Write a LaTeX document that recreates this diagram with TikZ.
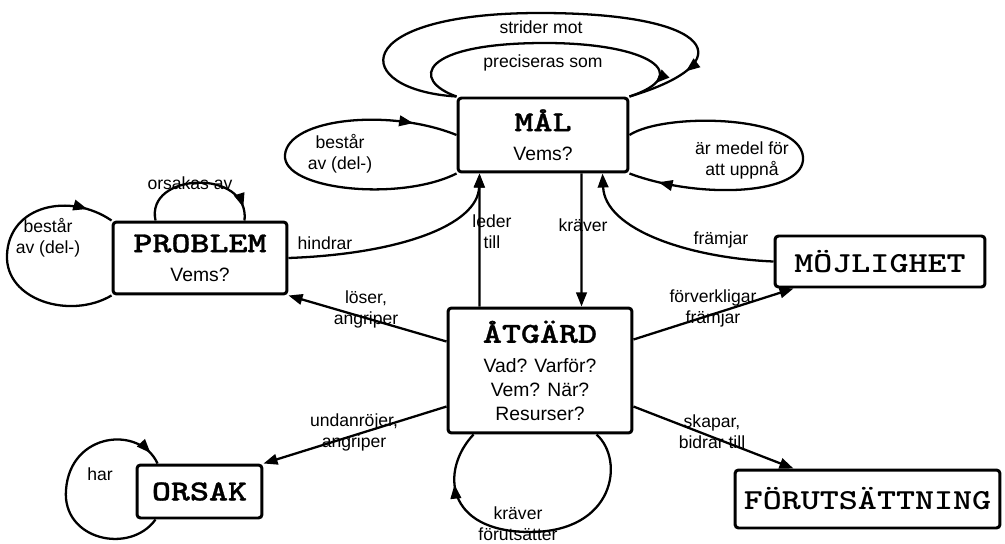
\documentclass[tikz,border=0pt]{standalone}
\usepackage{fontspec}
\setmainfont{Liberation Sans}
\newfontfamily\boxfont{lmmonolt10-bold.otf}[FakeStretch=1.25,FakeBold=1]
\newfontfamily\lightboxfont{lmmonolt10-bold.otf}[FakeStretch=1.25]
\usetikzlibrary{arrows.meta,calc,decorations.markings}
\newcommand{\subfont}{\rmfamily\mdseries\fontsize{11}{13.6}\selectfont}

\begin{document}
\begin{tikzpicture}[x=0.02cm,y=-0.02cm,
  term/.style={draw,line width=1.7pt,rounded corners=2pt,inner sep=0pt,align=center,
    font=\boxfont\fontsize{16.5}{13.7}\selectfont},
  lightterm/.style={term,font=\lightboxfont\fontsize{16.5}{13.7}\selectfont},
  lbl/.style={inner sep=0pt,align=center,font=\fontsize{10}{12}\selectfont},
  rel/.style={line width=1.3pt,-{Triangle[length=8pt,width=6pt]}},
  selfrel/.style={line width=1.3pt,postaction={decorate},
    decoration={markings,mark=at position #1 with {\arrow{Triangle[length=8pt,width=6pt]}}}}]
\useasboundingbox (0,0) rectangle (1005,544);
% boxes
\node[term,minimum width=3.4cm,minimum height=1.48cm] (mal) at (543,135) {MÅL\\[3pt]{\subfont Vems?}};
\node[term,minimum width=3.48cm,minimum height=1.44cm] (problem) at (200,258) {PROBLEM\\[3pt]{\subfont Vems?}};
\node[term,minimum width=3.68cm,minimum height=2.5cm] (atgard) at (540,370.5) {ÅTGÄRD\\[3pt]{\subfont Vad? Varför?}\\{\subfont Vem? När?}\\{\subfont Resurser?}};
\node[term,minimum width=2.5cm,minimum height=1.06cm] (orsak) at (199.5,491.5) {ORSAK};
\node[lightterm,minimum width=4.2cm,minimum height=1.02cm] (mojlighet) at (880,261.5) {MÖJLIGHET};
\node[lightterm,minimum width=5.3cm,minimum height=1.16cm] (forut) at (867.5,499) {FÖRUTSÄTTNING};
% connectors between boxes
\draw[rel] (problem.east) .. controls (400,254) and (478,225) .. ($(mal.south west)+(23,0)$);
\draw[rel] ($(atgard.north west)+(33,0)$) -- ($(mal.south west)+(23,0)$);
\draw[rel] ($(mal.south west)+(125,0)$) -- ($(atgard.north west)+(135,0)$);
\draw[rel] (mojlighet.west) .. controls (690,258) and (605,230) .. ($(mal.south west)+(146,0)$);
\draw[rel] ($(atgard.north west)+(0,35)$) -- (problem.south east);
\draw[rel] ($(atgard.north east)+(0,33)$) -- ($(mojlighet.south west)+(20,0)$);
\draw[rel] ($(atgard.north west)+(0,100)$) -- (orsak.north east);
\draw[rel] ($(atgard.north east)+(0,100)$) -- ($(forut.north west)+(60,0)$);
% loops
\draw[selfrel=0.88] (mal.north west) .. controls (350,90) and (345,13) .. (540,13) .. controls (715,13) and (745,62) .. (mal.north east);
\draw[selfrel=0.91] (mal.north west) .. controls (410,80) and (420,43) .. (545,43) .. controls (650,43) and (695,75) .. (mal.north east);
\draw[selfrel=0.88] (mal.south west) .. controls (400,202) and (282,190) .. (285,155) .. controls (288,118) and (390,108) .. (mal.west);
\draw[selfrel=0.92] (mal.east) .. controls (665,112) and (800,115) .. (803,157) .. controls (806,195) and (700,200) .. (mal.south east);
\draw[selfrel=0.9] ($(problem.north west)+(44,0)$) .. controls (145,172) and (250,168) .. ($(problem.north west)+(133,0)$);
\draw[selfrel=0.9] (problem.south west) .. controls (70,320) and (5,300) .. (7,255) .. controls (9,205) and (70,192) .. (problem.north west);
\draw[selfrel=0.95] ($(orsak.south west)+(20,0)$) .. controls (130,555) and (62,540) .. (66,490) .. controls (70,432) and (140,425) .. ($(orsak.north west)+(22,0)$);
\draw[selfrel=0.82] ($(atgard.south west)+(150,0)$) .. controls (625,460) and (615,532) .. (530,532) .. controls (445,532) and (440,470) .. ($(atgard.south west)+(27,0)$);
% labels
\node[lbl] (strider) at (541,27) {strider mot};
\node[lbl] (precis) at (543,63) {preciseras som};
\node[lbl] (bestar1) at (340,154) {består\\av (del-)};
\node[lbl] (medel) at (742,160) {är medel för\\att uppnå};
\node[lbl] (orsakas) at (190,183) {orsakas av};
\node[lbl] (bestar2) at (48,238) {består\\av (del-)};
\node[lbl] (hindrar) at (325,243) {hindrar};
\node[lbl] (leder) at (492,232) {leder\\till};
\node[lbl] (kraver) at (583,225) {kräver};
\node[lbl] (framjar) at (721,240) {främjar};
\node[lbl] (loser) at (366,309) {löser,\\angriper};
\node[lbl] (forverk) at (713,308) {förverkligar\\främjar};
\node[lbl] (undan) at (354,432) {undanröjer,\\angriper};
\node[lbl] (skapar) at (712,432) {skapar,\\bidrar till};
\node[lbl] (har) at (100,474) {har};
\node[lbl] (forutsatt) at (518,524) {kräver\\förutsätter};
\end{tikzpicture}
\end{document}
